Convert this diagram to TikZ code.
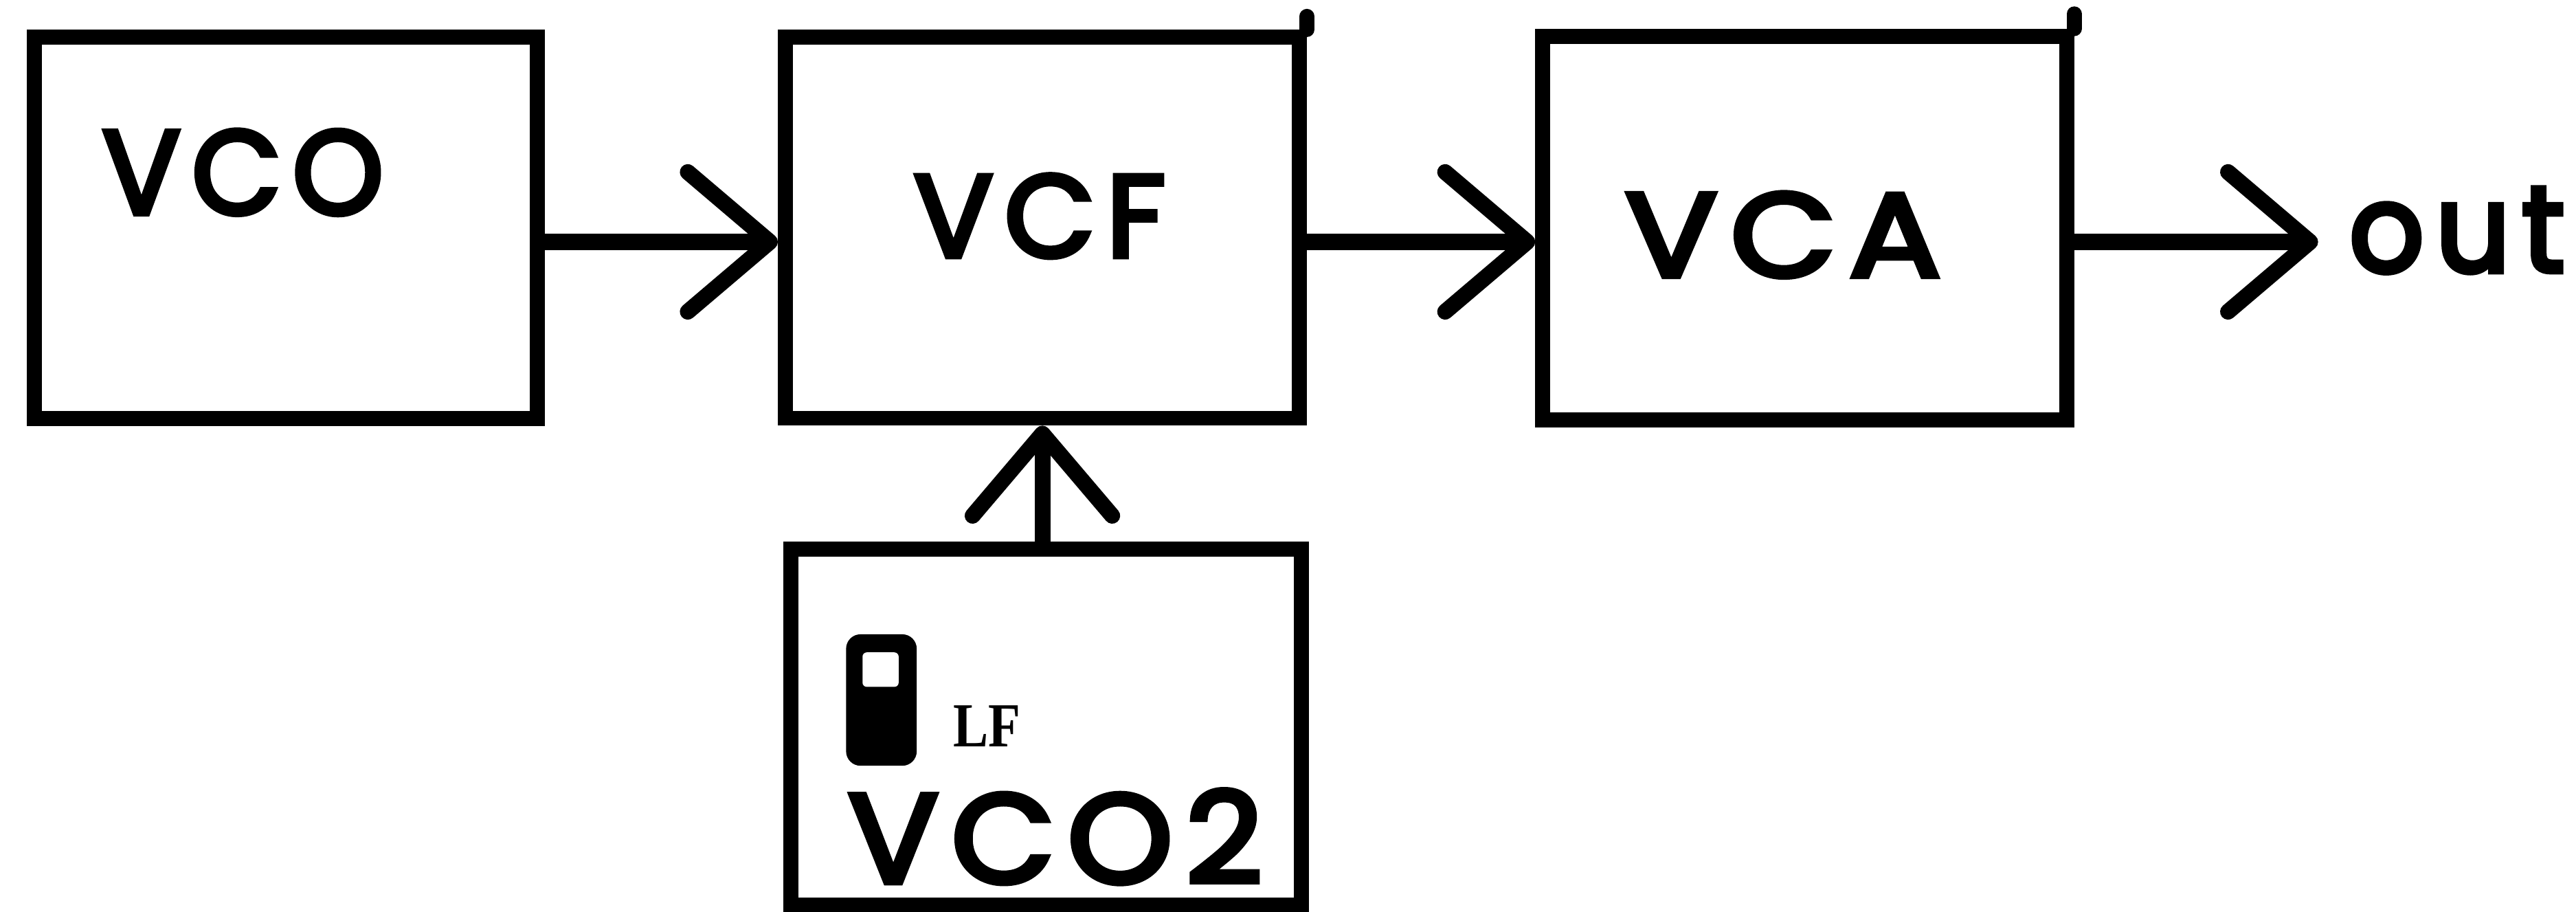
\documentclass[tikz,border=0pt]{standalone}
\usepackage{fontspec}
\usepackage{graphicx}
\setmainfont{Poppins}
\newfontfamily\hand{Poppins}[FakeBold=4.5, LetterSpace=10]
\newfontfamily\lffont{Liberation Serif}
\usetikzlibrary{arrows.meta}
\begin{document}
\begin{tikzpicture}[x=0.02cm, y=-0.02cm,
  box/.style={draw, line width=5.2pt, inner sep=0pt, rectangle},
  conn/.style={line width=5.5pt, -{Straight Barb[length=1.0cm, width=1.7cm, round]}},
  lbl/.style={inner sep=0pt, anchor=south west},
  tick/.style={line width=5.2pt, line cap=round}]
\useasboundingbox (0,0) rectangle (1568,555);
% boxes
\node[box, minimum width=6.12cm, minimum height=4.646cm] (vco) at (174,138.65) {};
\node[box, minimum width=6.26cm, minimum height=4.64cm] (vcf) at (634.5,138.5) {};
\node[box, minimum width=6.38cm, minimum height=4.67cm] (vca) at (1098.5,138.75) {};
\node[box, minimum width=6.21cm, minimum height=4.34cm] (vco2) at (636.75,442.5) {};
% small overshoots at top-right corners
\draw[tick] (vcf.north east) -- ++(0,-8);
\draw[tick] (vca.north east) -- ++(0,-9);
% labels
\node[lbl] (vcoT) at (62,131) {\resizebox{3.42cm}{1.02cm}{\hand VCO}};
\node[lbl] (vcfT) at (556,157) {\resizebox{3.06cm}{1.0cm}{\hand VCF}};
\node[lbl] (vcaT) at (989,169) {\resizebox{3.84cm}{1.02cm}{\hand VCA}};
\node[lbl] (vco2T) at (516,538) {\resizebox{5.04cm}{1.13cm}{\hand VCO2}};
\node[lbl] (lf) at (580,454.6) {\resizebox{0.82cm}{0.5cm}{\lffont\bfseries LF}};
\node[lbl, outer xsep=0.38cm, outer ysep=0pt] (out) at (1411,166) {\resizebox{2.62cm}{1.02cm}{\hand out}};
% switch icon
\fill[rounded corners=5pt] (515,386) rectangle (558,466);
\fill[white, rounded corners=1.5pt] (525,397) rectangle (547,418);
% connectors
\coordinate (row) at (0,147.2);
\draw[conn] (vco.east |- row) -- (vcf.west |- row);
\draw[conn] (vcf.east |- row) -- (vca.west |- row);
\draw[conn] (vca.east |- row) -- (out.west |- row);
\draw[conn] (vcf.south |- vco2.north) -- (vcf.south);
\end{tikzpicture}
\end{document}
